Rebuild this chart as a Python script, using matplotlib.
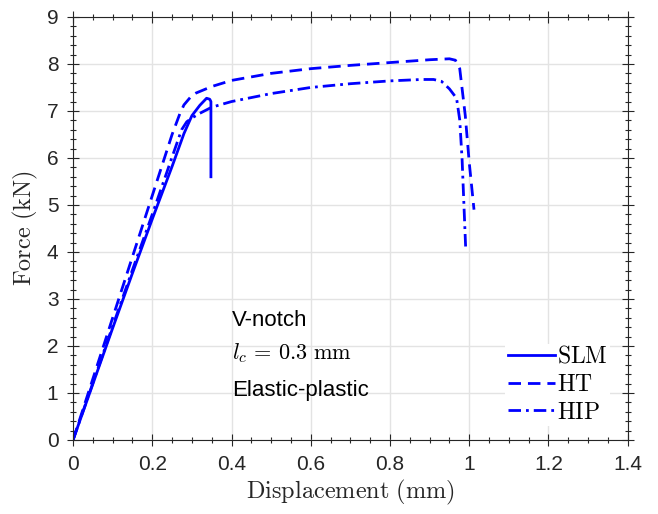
import numpy as np
import matplotlib.pyplot as plt
from matplotlib.ticker import MultipleLocator

plt.rcParams['font.family'] = ['Liberation Sans', 'DejaVu Sans']
plt.rcParams['mathtext.fontset'] = 'cm'

# force-displacement curves
slm_x = [0, 0.05, 0.10, 0.15, 0.20, 0.25, 0.28, 0.30, 0.32, 0.337, 0.345, 0.348, 0.348]
slm_y = [0, 1.19, 2.38, 3.55, 4.70, 5.82, 6.52, 6.90, 7.12, 7.27, 7.25, 7.20, 5.60]

ht_x = [0, 0.05, 0.10, 0.15, 0.20, 0.25, 0.27, 0.28, 0.30, 0.31, 0.35, 0.40, 0.50,
        0.60, 0.70, 0.80, 0.90, 0.95, 0.965, 0.976, 0.99, 1.00, 1.012]
ht_y = [0, 1.30, 2.60, 3.90, 5.20, 6.50, 6.95, 7.13, 7.33, 7.38, 7.52, 7.65, 7.80,
        7.90, 7.97, 8.03, 8.09, 8.11, 8.08, 7.90, 6.90, 5.90, 4.90]

hip_x = [0, 0.05, 0.10, 0.15, 0.20, 0.25, 0.274, 0.287, 0.30, 0.32, 0.35, 0.40, 0.50,
         0.60, 0.70, 0.80, 0.88, 0.91, 0.93, 0.95, 0.968, 0.976, 0.982, 0.991]
hip_y = [0, 1.21, 2.42, 3.62, 4.80, 6.02, 6.60, 6.77, 6.85, 6.95, 7.08, 7.20, 7.37,
         7.50, 7.58, 7.64, 7.67, 7.67, 7.63, 7.47, 7.27, 6.81, 5.96, 4.08]

fig = plt.figure(figsize=(6.58, 5.14), dpi=100)
ax = fig.add_axes([0.111, 0.144, 0.843, 0.823])

ax.plot(slm_x, slm_y, color='#0000ff', lw=2, ls='-', label=r'$\mathrm{SLM}$')
ax.plot(ht_x, ht_y, color='#0000ff', lw=2, ls=(0, (4.5, 2.5)), label=r'$\mathrm{HT}$')
ax.plot(hip_x, hip_y, color='#0000ff', lw=2, ls=(0, (4.5, 1.8, 1, 1.8)), label=r'$\mathrm{HIP}$')

ax.set_xlim(0, 1.4)
ax.set_ylim(0, 9)
ax.xaxis.set_major_locator(MultipleLocator(0.2))
ax.xaxis.set_minor_locator(MultipleLocator(0.05))
ax.yaxis.set_major_locator(MultipleLocator(1))
ax.yaxis.set_minor_locator(MultipleLocator(0.2))
ax.set_xticks(np.arange(0, 1.41, 0.2))
ax.set_xticklabels(['0', '0.2', '0.4', '0.6', '0.8', '1', '1.2', '1.4'])

ax.grid(True, which='major', color='#e3e3e3', lw=1)
ax.set_axisbelow(True)
ax.tick_params(which='both', direction='inout', top=True, right=True,
               labelsize=15, color='#262626', labelcolor='#262626', width=0.8)
ax.tick_params(which='major', length=9, pad=6)
ax.tick_params(which='minor', length=5)
for s in ax.spines.values():
    s.set_color('#262626')
    s.set_linewidth(0.8)

ax.set_xlabel(r'$\mathrm{Displacement\ (mm)}$', fontsize=17.5, color='#262626', labelpad=3)
ax.set_ylabel(r'$\mathrm{Force\ (kN)}$', fontsize=17.5, color='#262626', labelpad=5)

ax.text(0.401, 2.55, 'V-notch', fontsize=16, va='center')
ax.text(0.401, 1.85, r'$l_c\, =\, 0.3\ \mathrm{mm}$', fontsize=16, va='center')
ax.text(0.401, 1.06, 'Elastic-plastic', fontsize=16, va='center')

leg = ax.legend(loc='lower right', bbox_to_anchor=(0.99, 0.005), fontsize=17,
                handlelength=2.0, handletextpad=0.1, labelspacing=0.25,
                frameon=True, fancybox=False, framealpha=1, borderpad=0.1)
leg.get_frame().set_edgecolor('none')

fig.savefig('out.png', dpi=100)
